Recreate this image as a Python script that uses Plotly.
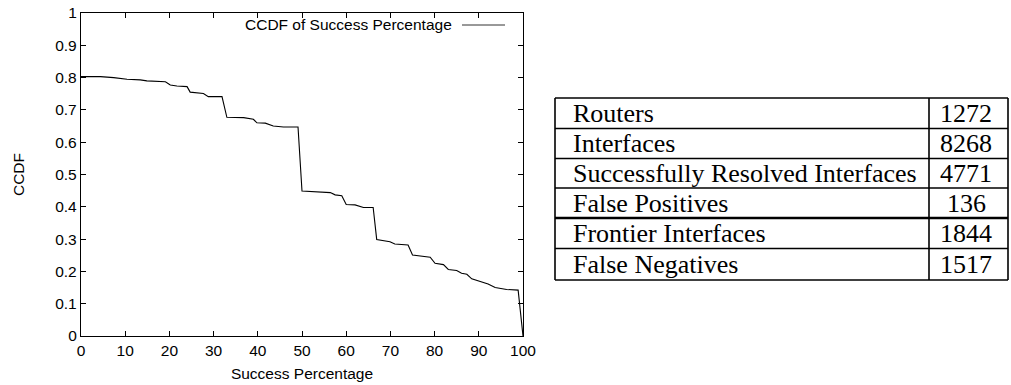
import plotly.graph_objects as go

# ---- data ----
success_pct = [0, 4.4, 7.4, 10.4, 13.4, 14.9, 19.1, 20.2, 21.7, 24.0,
               24.7, 27.7, 28.8, 31.9, 33.0, 36.8, 39.0, 39.8, 41.7, 43.5,
               45.8, 49.1, 50.0, 54.1, 56.4, 57.5, 59.0, 60.0, 62.0, 63.9,
               66.1, 66.9, 69.9, 71.0, 74.0, 75.0, 79.0, 80.1, 82.0, 83.1,
               85.0, 86.1, 87.3, 88.4, 92.1, 93.7, 96.3, 98.9, 100]
ccdf = [0.803, 0.803, 0.800, 0.795, 0.793, 0.790, 0.787, 0.777, 0.774, 0.772,
        0.755, 0.751, 0.741, 0.741, 0.677, 0.676, 0.671, 0.660, 0.659, 0.650,
        0.647, 0.647, 0.449, 0.447, 0.444, 0.437, 0.434, 0.407, 0.406, 0.398,
        0.398, 0.299, 0.292, 0.285, 0.282, 0.251, 0.244, 0.225, 0.221, 0.206,
        0.203, 0.194, 0.191, 0.177, 0.161, 0.150, 0.144, 0.142, 0]

x_ticks = [0, 10, 20, 30, 40, 50, 60, 70, 80, 90, 100]
y_ticks = [0, 0.1, 0.2, 0.3, 0.4, 0.5, 0.6, 0.7, 0.8, 0.9, 1]
y_tick_labels = ["0", "0.1", "0.2", "0.3", "0.4", "0.5", "0.6", "0.7", "0.8", "0.9", "1"]

legend_label = "CCDF of Success Percentage"

table_labels = ["Routers", "Interfaces", "Successfully Resolved Interfaces",
                "False Positives", "Frontier Interfaces", "False Negatives"]
table_values = ["1272", "8268", "4771", "136", "1844", "1517"]

# ---- layout geometry (pixels of the reference image) ----
W, H = 1011, 385
PL, PR, PT, PB = 81, 523, 13, 336   # plot frame in reference pixels


def px(x):
    return (x - PL) / (PR - PL)


def py(y):
    return (PB - y) / (PB - PT)


sans = "Liberation Sans, Arial, sans-serif"
serif = "Liberation Serif, Times New Roman, serif"
FS = 15.5

fig = go.Figure()
fig.add_trace(go.Scatter(x=success_pct, y=ccdf, mode="lines",
                         line=dict(color="black", width=1.1),
                         name=legend_label, showlegend=False))

axis_common = dict(showline=True, linecolor="black", linewidth=1.3, mirror="ticks",
                   ticks="inside", ticklen=5, tickwidth=1, tickcolor="black",
                   showgrid=False, zeroline=False, automargin=False,
                   tickfont=dict(family=sans, size=FS, color="black"))

fig.update_xaxes(range=[0, 100], tickvals=x_ticks,
                 title=dict(text="Success Percentage", font=dict(family=sans, size=FS, color="black"),
                            standoff=10),
                 **axis_common)
fig.update_yaxes(range=[0, 1], tickvals=y_ticks, ticktext=y_tick_labels,
                 title=dict(text="CCDF", font=dict(family=sans, size=FS, color="black"),
                            standoff=26),
                 **axis_common)

shapes = []
annotations = []

# legend (text then line sample)
annotations.append(dict(x=px(454), y=py(25), xref="paper", yref="paper",
                        text=legend_label, showarrow=False, xanchor="right", yanchor="middle",
                        font=dict(family=sans, size=FS, color="black")))
shapes.append(dict(type="line", xref="paper", yref="paper",
                   x0=px(462), x1=px(505), y0=py(25), y1=py(25),
                   line=dict(color="#333333", width=1)))

# table
TL, TR, TD = 555, 1008, 929
row_edges = [98, 128.5, 158.5, 188, 218, 248.5, 280]
lw = 1.6
for i, yy in enumerate(row_edges):
    width = 2.6 if i == 4 else lw
    shapes.append(dict(type="line", xref="paper", yref="paper",
                       x0=px(TL), x1=px(TR), y0=py(yy), y1=py(yy),
                       line=dict(color="black", width=width)))
for xx in (TL, TD, TR):
    shapes.append(dict(type="line", xref="paper", yref="paper",
                       x0=px(xx), x1=px(xx), y0=py(row_edges[0]), y1=py(row_edges[-1]),
                       line=dict(color="black", width=lw)))

for i, (lab, val) in enumerate(zip(table_labels, table_values)):
    yc = (row_edges[i] + row_edges[i + 1]) / 2
    annotations.append(dict(x=px(571), y=py(yc), xref="paper", yref="paper",
                            text=lab, showarrow=False, xanchor="left", yanchor="middle",
                            font=dict(family=serif, size=26, color="black")))
    annotations.append(dict(x=px(966), y=py(yc), xref="paper", yref="paper",
                            text=val, showarrow=False, xanchor="center", yanchor="middle",
                            font=dict(family=serif, size=26, color="black")))

fig.update_layout(width=W, height=H, autosize=False,
                  margin=dict(l=PL, r=W - PR, t=PT, b=H - PB, pad=0),
                  paper_bgcolor="white", plot_bgcolor="white",
                  shapes=shapes, annotations=annotations, showlegend=False)

fig.write_html("out.html", config={"displayModeBar": False},
               post_script="document.body.style.margin='0px';")
